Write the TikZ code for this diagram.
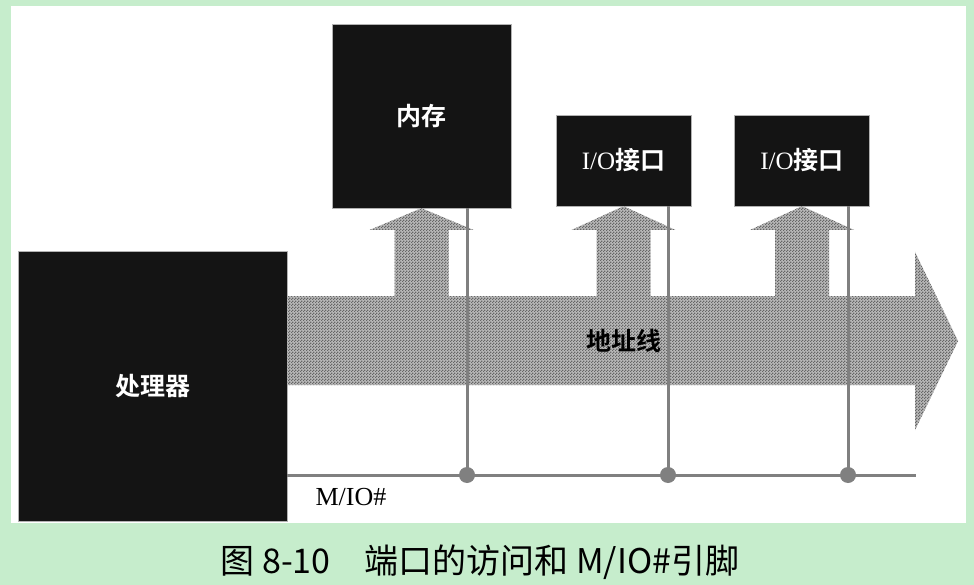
\documentclass[tikz,border=0pt]{standalone}
\usepackage{fontspec}
\setmainfont{Liberation Serif}
\newfontfamily\cjk{Noto Sans CJK SC}[BoldFont={Noto Sans CJK SC Bold}]
\usepackage{tikz}
\usetikzlibrary{patterns,calc}

\definecolor{pagegreen}{HTML}{C6EDCC}
\definecolor{boxblack}{HTML}{141414}
\definecolor{wiregray}{HTML}{808080}
\pgfdeclarepatternformonly{finecheck}{\pgfpointorigin}{\pgfqpoint{3pt}{3pt}}{\pgfqpoint{3pt}{3pt}}{%
  \pgfpathrectangle{\pgfpointorigin}{\pgfqpoint{1.5pt}{1.5pt}}%
  \pgfpathrectangle{\pgfqpoint{1.5pt}{1.5pt}}{\pgfqpoint{1.5pt}{1.5pt}}%
  \pgfusepath{fill}}

\begin{document}
\begin{tikzpicture}[x=1pt, y=-1pt,
    chip/.style={fill=boxblack, draw=gray!60, line width=0.4pt, text=white, inner sep=0pt, font=\cjk\bfseries\fontsize{25}{30}\selectfont},
    bus/.style={preaction={fill=gray!55}, pattern=finecheck, pattern color=black!60},
    wire/.style={draw=wiregray, line width=3pt},
    tap/.style={fill=wiregray},
]
  \useasboundingbox (0,0) rectangle (974,585);
  \fill[pagegreen] (0,0) rectangle (974,585);
  \fill[white] (11,6) rectangle (966,523);

  \node[chip, minimum width=269pt, minimum height=270pt] (cpu) at (152.5,386) {处理器};
  \node[chip, minimum width=179pt, minimum height=184pt] (mem) at (421.5,116) {内存};
  \node[chip, minimum width=135pt, minimum height=91pt] (io1) at (623.5,160.5) {{\rmfamily\mdseries I/O}接口};
  \node[chip, minimum width=135pt, minimum height=91pt] (io2) at (802,160.5) {{\rmfamily\mdseries I/O}接口};

  \fill[bus] (cpu.east |- 0,296) -- (915,296) -- (915,252) -- (958,341) -- (915,430) -- (915,385) -- (cpu.east |- 0,385) -- cycle;
  \foreach \b in {mem,io1,io2}
    \fill[bus] (\b.south) -- ($(\b.south |- 0,230)+(52,0)$) -- ($(\b.south |- 0,230)+(27,0)$) -- ($(\b.south |- 0,300)+(27,0)$)
      -- ($(\b.south |- 0,300)+(-27,0)$) -- ($(\b.south |- 0,230)+(-27,0)$) -- ($(\b.south |- 0,230)+(-52,0)$) -- cycle;

  \node[font=\cjk\bfseries\fontsize{25}{30}\selectfont] (addr) at (624,341) {地址线};

  \coordinate (busend) at (916,475);
  \draw[wire] (cpu.east |- busend) -- (busend);
  \foreach \t/\b/\x in {t1/mem/467, t2/io1/668, t3/io2/848} {
    \coordinate (\t) at (\x,475);
    \draw[wire] (\t) -- (\t |- \b.south);
    \fill[tap] (\t) circle (8);
  }

  \node[font=\fontsize{26}{30}\selectfont] (mio) at (351,497) {M/IO\#};
  \node[font=\cjk\fontsize{34}{40}\selectfont] (cap) at (480,562) {图 8-10\quad 端口的访问和 M/IO\#引脚};
\end{tikzpicture}
\end{document}
